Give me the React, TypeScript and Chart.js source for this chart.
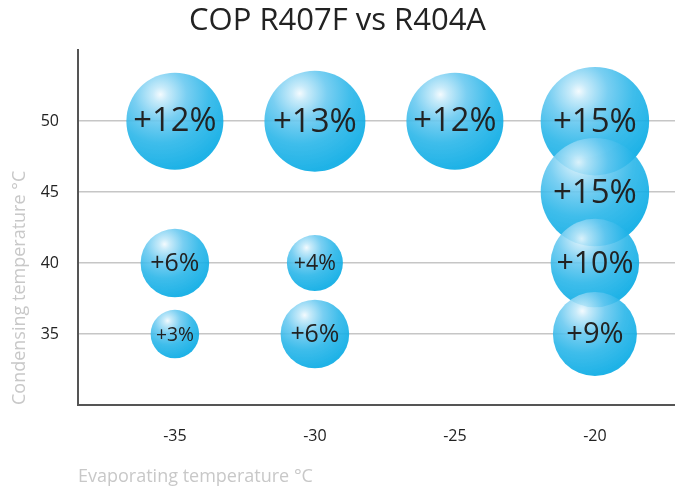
import React, { useEffect, useRef } from "react";
import { Chart, registerables } from "chart.js";

Chart.register(...registerables);

const titleText = "COP R407F vs R404A";
const xTitle = "Evaporating temperature °C";
const yTitle = "Condensing temperature °C";

const xTicks = [-35, -30, -25, -20];
const yTicks = [35, 40, 45, 50];

const evapTemps = [-35, -30, -25, -20, -20, -35, -30, -20, -35, -30, -20];
const condTemps = [50, 50, 50, 50, 45, 40, 40, 40, 35, 35, 35];
const gains = [12, 13, 12, 15, 15, 6, 4, 10, 3, 6, 9];

const FONT = "'Open Sans', 'DejaVu Sans', sans-serif";

const radiusFor = (g: number) => 14 * Math.sqrt(g);

const gradientPlugin = {
  id: "bubbleGradient",
  beforeDatasetsDraw(chart: any) {
    const ctx = chart.ctx;
    const meta = chart.getDatasetMeta(0);
    meta.data.forEach((el: any, i: number) => {
      const cx = el.x;
      const cy = el.y;
      const r = radiusFor(gains[i]);
      if (!Number.isFinite(cx) || !Number.isFinite(cy)) return;
      const hx = cx - 0.3 * r;
      const hy = cy - 0.55 * r;
      const g = ctx.createRadialGradient(hx, hy, 0, hx, hy, 1.55 * r);
      g.addColorStop(0, "rgba(242,250,254,0.88)");
      g.addColorStop(0.1, "rgba(192,232,249,0.88)");
      g.addColorStop(0.35, "rgba(102,200,240,0.88)");
      g.addColorStop(0.65, "rgba(36,180,232,0.88)");
      g.addColorStop(1, "rgba(6,170,228,0.9)");
      if (el.options) {
        el.options = Object.assign({}, el.options, { backgroundColor: g });
      }
    });
  },
};

const labelPlugin = {
  id: "bubbleLabels",
  afterDatasetsDraw(chart: any) {
    const ctx = chart.ctx;
    const meta = chart.getDatasetMeta(0);
    ctx.save();
    ctx.fillStyle = "#222222";
    ctx.textAlign = "center";
    ctx.textBaseline = "middle";
    meta.data.forEach((el: any, i: number) => {
      const r = radiusFor(gains[i]);
      const fs = Math.min(0.8 * r, 6 + 0.55 * r, 33);
      ctx.font = `${fs.toFixed(1)}px ${FONT}`;
      ctx.fillText(`+${gains[i]}%`, el.x, el.y + 1);
    });
    ctx.restore();
  },
};

export default function App() {
  const ref = useRef<HTMLCanvasElement | null>(null);

  useEffect(() => {
    if (!ref.current) return;
    const chart = new Chart(ref.current, {
      type: "bubble",
      data: {
        datasets: [
          {
            data: evapTemps.map((x, i) => ({ x, y: condTemps[i] })),
            radius: (c: any) => radiusFor(gains[c.dataIndex] ?? 5),
            borderWidth: 0,
            borderColor: "rgba(0,0,0,0)",
            backgroundColor: "rgba(60,189,234,0.88)",
            hoverRadius: 0,
            clip: false,
          } as any,
        ],
      },
      options: {
        animation: false,
        responsive: false,
        maintainAspectRatio: false,
        events: [],
        layout: { autoPadding: false, padding: { left: 0, right: 0, top: 0, bottom: 0 } } as any,
        plugins: {
          legend: { display: false },
          tooltip: { enabled: false },
          title: {
            display: true,
            text: titleText,
            color: "#222222",
            font: { family: FONT, size: 31, weight: "normal" as any, lineHeight: 1.2 },
            padding: { top: 3, bottom: 10 },
          },
        },
        scales: {
          x: {
            type: "linear",
            min: -38.46,
            max: -17.14,
            afterBuildTicks: (axis: any) => {
              axis.ticks = xTicks.map((v) => ({ value: v }));
            },
            afterFit: (axis: any) => {
              axis.height = 85;
            },
            grid: { display: false, drawTicks: false },
            border: { display: true, color: "#555555", width: 2 },
            ticks: {
              color: "#222222",
              font: { family: FONT, size: 16 },
              padding: 22,
              maxRotation: 0,
              callback: (v: any) => String(v),
            },
            title: {
              display: true,
              text: xTitle,
              align: "start",
              color: "#c8c8c8",
              font: { family: FONT, size: 18 },
              padding: { top: 15, bottom: 2 },
            },
          },
          y: {
            type: "linear",
            min: 30,
            max: 55,
            afterBuildTicks: (axis: any) => {
              axis.ticks = yTicks.map((v) => ({ value: v }));
            },
            afterFit: (axis: any) => {
              axis.width = 78;
            },
            grid: { display: true, drawTicks: false, color: "#c6c6c6", lineWidth: 1.5 },
            border: { display: true, color: "#555555", width: 2 },
            ticks: {
              color: "#222222",
              font: { family: FONT, size: 16 },
              padding: 19,
              callback: (v: any) => String(v),
            },
            title: {
              display: true,
              text: yTitle,
              align: "start",
              color: "#c8c8c8",
              font: { family: FONT, size: 18 },
              padding: { top: 9, bottom: 9 },
            },
          },
        },
      },
      plugins: [gradientPlugin, labelPlugin],
    });
    return () => chart.destroy();
  }, []);

  return (
    <div style={{ position: "absolute", left: 0, top: 0, width: 675, height: 490, background: "#ffffff" }}>
      <canvas ref={ref} width={675} height={490} style={{ display: "block" }} />
    </div>
  );
}
